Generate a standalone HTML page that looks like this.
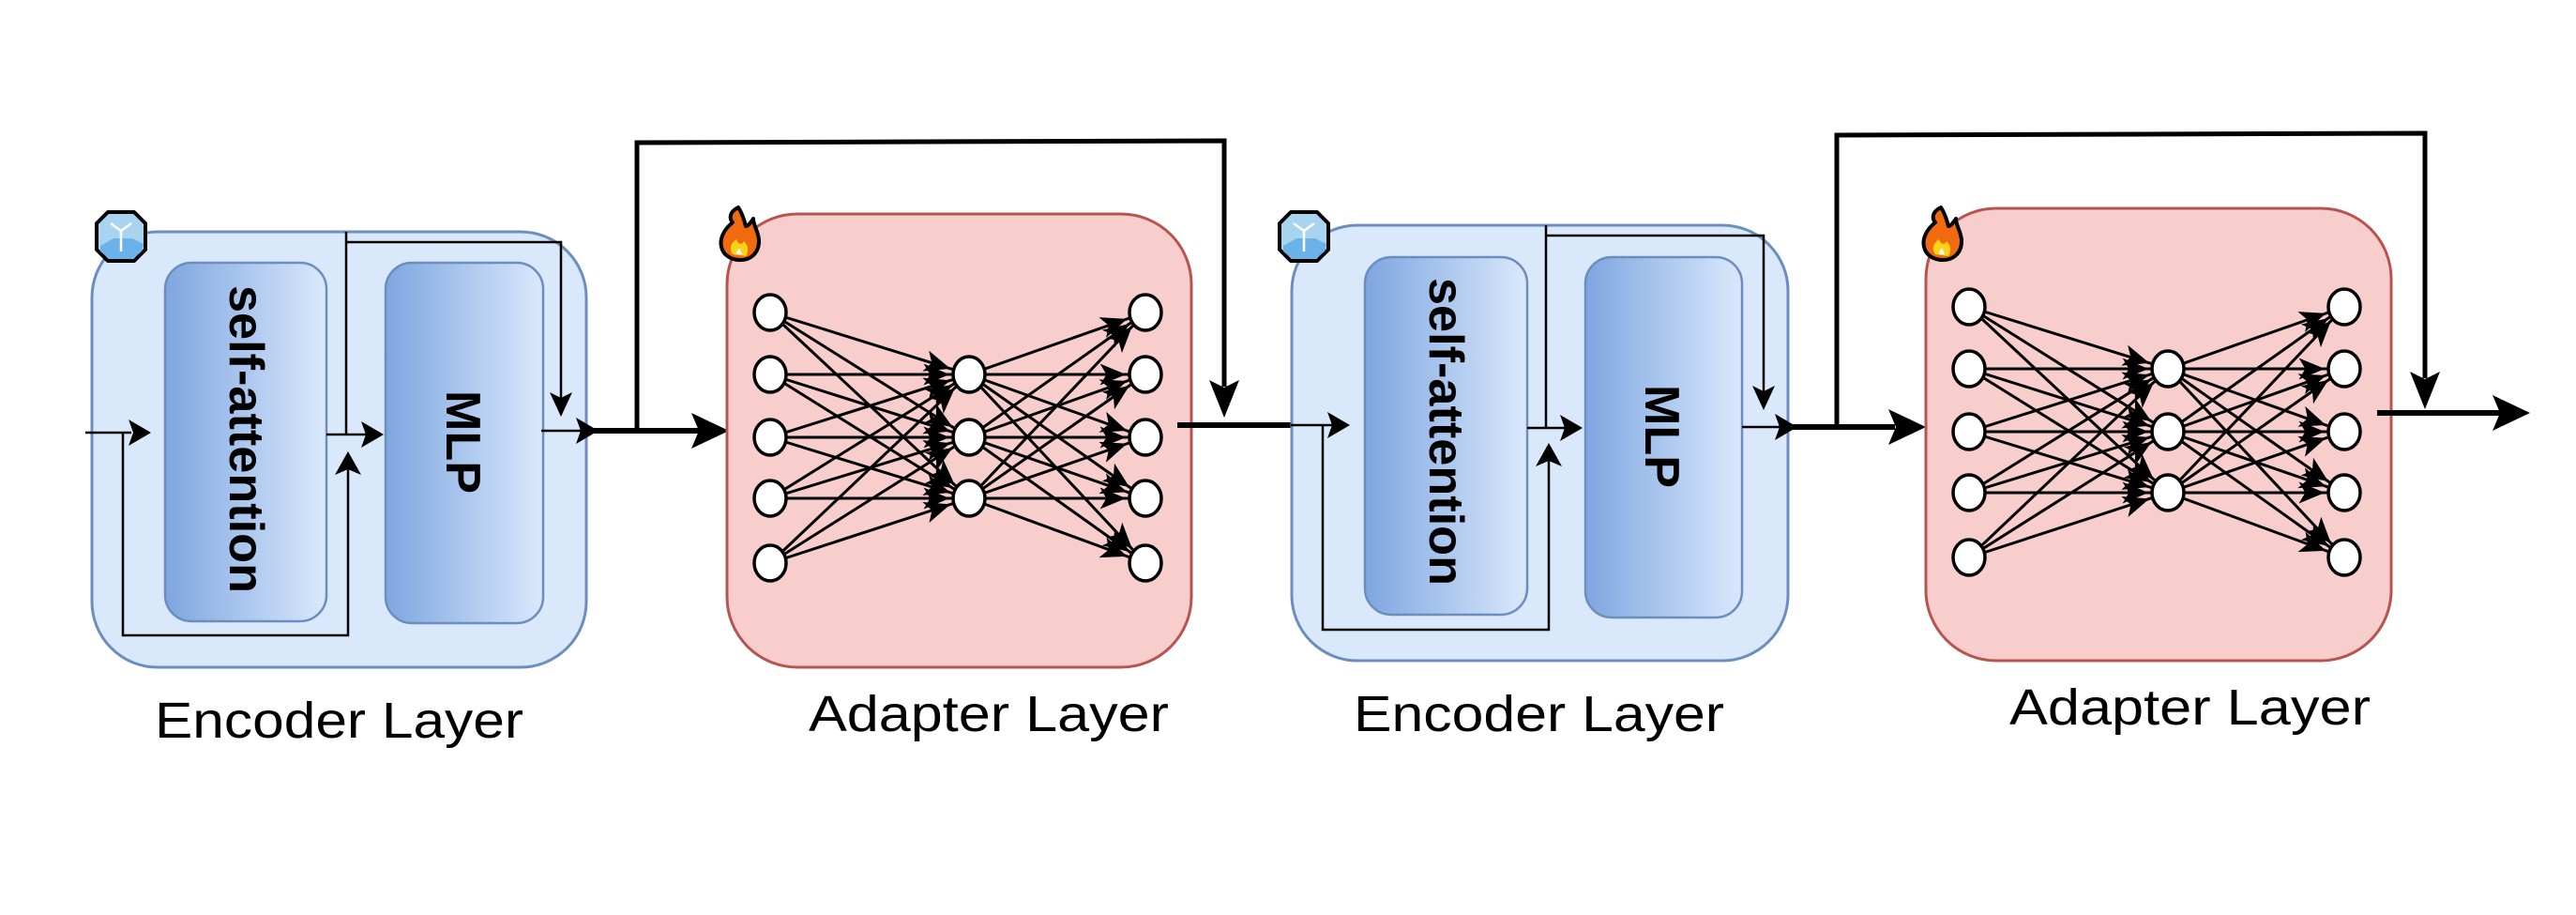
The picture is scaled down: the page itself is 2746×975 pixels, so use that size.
<!DOCTYPE html>
<html><head><meta charset="utf-8"><style>
html,body{margin:0;padding:0;background:#fff;}
svg{display:block;}
text{font-family:"Liberation Sans",Arial,sans-serif;}
</style></head><body>
<svg width="2746" height="975" viewBox="0 0 2746 975" xmlns="http://www.w3.org/2000/svg">
<defs>
<linearGradient id="g" x1="0" x2="1" y1="0" y2="0">
<stop offset="0" stop-color="#7ea6e0"/><stop offset="1" stop-color="#dae8fc"/>
</linearGradient>
<marker id="na" markerUnits="userSpaceOnUse" markerWidth="30" markerHeight="24" refX="42" refY="10" orient="auto" viewBox="0 0 26 20" overflow="visible">
<path d="M0,0 L24,10 L0,20 L6,10 Z" fill="#000"/>
</marker>
<g id="net">
<g stroke="#000" stroke-width="3" marker-end="url(#na)">
<line x1="821" y1="333" x2="1033" y2="399"/><line x1="821" y1="333" x2="1033" y2="466"/><line x1="821" y1="333" x2="1033" y2="531"/>
<line x1="821" y1="399" x2="1033" y2="399"/><line x1="821" y1="399" x2="1033" y2="466"/><line x1="821" y1="399" x2="1033" y2="531"/>
<line x1="821" y1="466" x2="1033" y2="399"/><line x1="821" y1="466" x2="1033" y2="466"/><line x1="821" y1="466" x2="1033" y2="531"/>
<line x1="821" y1="531" x2="1033" y2="399"/><line x1="821" y1="531" x2="1033" y2="466"/><line x1="821" y1="531" x2="1033" y2="531"/>
<line x1="821" y1="600" x2="1033" y2="399"/><line x1="821" y1="600" x2="1033" y2="466"/><line x1="821" y1="600" x2="1033" y2="531"/>
<line x1="1033" y1="399" x2="1221" y2="333"/><line x1="1033" y1="399" x2="1221" y2="399"/><line x1="1033" y1="399" x2="1221" y2="466"/><line x1="1033" y1="399" x2="1221" y2="531"/><line x1="1033" y1="399" x2="1221" y2="600"/>
<line x1="1033" y1="466" x2="1221" y2="333"/><line x1="1033" y1="466" x2="1221" y2="399"/><line x1="1033" y1="466" x2="1221" y2="466"/><line x1="1033" y1="466" x2="1221" y2="531"/><line x1="1033" y1="466" x2="1221" y2="600"/>
<line x1="1033" y1="531" x2="1221" y2="333"/><line x1="1033" y1="531" x2="1221" y2="399"/><line x1="1033" y1="531" x2="1221" y2="466"/><line x1="1033" y1="531" x2="1221" y2="531"/><line x1="1033" y1="531" x2="1221" y2="600"/>
</g>
<g fill="#fff" stroke="#000" stroke-width="3.5">
<ellipse cx="821" cy="333" rx="17" ry="19"/><ellipse cx="821" cy="399" rx="17" ry="19"/><ellipse cx="821" cy="466" rx="17" ry="19"/><ellipse cx="821" cy="531" rx="17" ry="19"/><ellipse cx="821" cy="600" rx="17" ry="19"/>
<ellipse cx="1033" cy="399" rx="17" ry="19"/><ellipse cx="1033" cy="466" rx="17" ry="19"/><ellipse cx="1033" cy="531" rx="17" ry="19"/>
<ellipse cx="1221" cy="333" rx="17" ry="19"/><ellipse cx="1221" cy="399" rx="17" ry="19"/><ellipse cx="1221" cy="466" rx="17" ry="19"/><ellipse cx="1221" cy="531" rx="17" ry="19"/><ellipse cx="1221" cy="600" rx="17" ry="19"/>
</g>
</g>
<g id="ice">
<path d="M14,4 L42,4 L54,16 L54,44 L42,56 L14,56 L2,44 L2,16 Z" fill="#a8d4f0" stroke="#000" stroke-width="4" stroke-linejoin="round"/>
<path d="M6,40 L20,32 L40,32 L52,38 L50,46 L40,54 L16,54 L6,46 Z" fill="#6ab2e8"/>
<path d="M17,16 L28,24 L39,16 M28,24 L28,46" stroke="#fff" stroke-width="2.5" fill="none"/>
</g>
<g id="fire">
<path d="M22,2 C10,8 14,16 16,18 C6,26 2,36 4,44 C6,54 16,58 24,58 C36,58 44,50 44,38 C44,28 38,22 38,14 C34,20 32,22 30,22 C28,14 26,8 22,2 Z" fill="#f26a0f" stroke="#000" stroke-width="4" stroke-linejoin="round"/>
<path d="M16,52 C12,46 14,40 20,36 C22,42 26,42 28,38 C32,42 34,48 30,54 Z" fill="#ffd21a"/>
<path d="M20,52 C20,48 22,46 24,46 C24,50 26,50 26,52 Z" fill="#fff"/>
</g>
</defs>

<!-- Encoder 1 -->
<rect x="98" y="247" width="527" height="464" rx="70" fill="#dae8fc" stroke="#6c8ebf" stroke-width="3"/>
<rect x="176" y="280" width="172" height="382" rx="28" fill="url(#g)" stroke="#6c8ebf" stroke-width="2.5"/>
<rect x="411" y="280" width="168" height="384" rx="28" fill="url(#g)" stroke="#6c8ebf" stroke-width="2.5"/>
<text transform="translate(245,468) rotate(90)" text-anchor="middle" font-size="52" font-weight="bold" textLength="328" lengthAdjust="spacingAndGlyphs">self-attention</text>
<text transform="translate(476,471) rotate(90)" text-anchor="middle" font-size="52" font-weight="bold" textLength="110" lengthAdjust="spacingAndGlyphs">MLP</text>
<use href="#ice" x="101" y="222"/>

<g stroke="#000" stroke-width="2.5" fill="none">
<line x1="91" y1="461" x2="140" y2="461"/>
<polyline points="131,461 131,677 371,677 371,500"/>
<line x1="348" y1="463" x2="390" y2="463"/>
<polyline points="369,247 369,463"/>
<polyline points="369,258 598,258 598,425"/>
<line x1="577" y1="459" x2="620" y2="459"/>
</g>
<polygon points="161,461 137,447 142,461 137,475" fill="#000"/>
<polygon points="371,481 357,506 371,500 385,506" fill="#000"/>
<polygon points="409,463 385,449 390,463 385,477" fill="#000"/>
<polygon points="598,444 586,418 598,424 610,418" fill="#000"/>
<polygon points="638,459 614,445 619,459 614,473" fill="#000"/>
<line x1="630" y1="459" x2="745" y2="459" stroke="#000" stroke-width="6"/>
<polygon points="777,459 737,440 745,459 737,478" fill="#000"/>
<polyline points="679,459 679,152 1305,150 1305,412" stroke="#000" stroke-width="5" fill="none"/>
<polygon points="1305,445 1289,405 1305,413 1321,405" fill="#000"/>

<!-- Adapter 1 -->
<rect x="775" y="228" width="495" height="483" rx="75" fill="#f8cecc" stroke="#b85450" stroke-width="3"/>
<use href="#net"/>
<use href="#fire" x="765" y="219"/>
<line x1="1255" y1="453" x2="1378" y2="453" stroke="#000" stroke-width="6"/>

<!-- Encoder 2 -->
<rect x="1377" y="240" width="529" height="464" rx="70" fill="#dae8fc" stroke="#6c8ebf" stroke-width="3"/>
<rect x="1455" y="274" width="173" height="381" rx="28" fill="url(#g)" stroke="#6c8ebf" stroke-width="2.5"/>
<rect x="1690" y="274" width="167" height="384" rx="28" fill="url(#g)" stroke="#6c8ebf" stroke-width="2.5"/>
<text transform="translate(1524,460) rotate(90)" text-anchor="middle" font-size="52" font-weight="bold" textLength="328" lengthAdjust="spacingAndGlyphs">self-attention</text>
<text transform="translate(1754,465) rotate(90)" text-anchor="middle" font-size="52" font-weight="bold" textLength="110" lengthAdjust="spacingAndGlyphs">MLP</text>
<use href="#ice" x="1362" y="222"/>
<g stroke="#000" stroke-width="2.5" fill="none">
<line x1="1376" y1="453" x2="1420" y2="453"/>
<polyline points="1410,453 1410,671 1651,671 1651,490"/>
<line x1="1628" y1="456" x2="1668" y2="456"/>
<polyline points="1648,240 1648,456"/>
<polyline points="1648,251 1880,251 1880,418"/>
<line x1="1857" y1="455" x2="1898" y2="455"/>
</g>
<polygon points="1439,453 1415,439 1420,453 1415,467" fill="#000"/>
<polygon points="1651,472 1637,497 1651,491 1665,497" fill="#000"/>
<polygon points="1687,456 1663,442 1668,456 1663,470" fill="#000"/>
<polygon points="1880,437 1868,411 1880,417 1892,411" fill="#000"/>
<polygon points="1916,455 1892,441 1897,455 1892,469" fill="#000"/>
<line x1="1906" y1="455" x2="2020" y2="455" stroke="#000" stroke-width="6"/>
<polygon points="2053,455 2013,436 2021,455 2013,474" fill="#000"/>
<polyline points="1958,455 1958,144 2585,142 2585,403" stroke="#000" stroke-width="5" fill="none"/>
<polygon points="2585,436 2569,396 2585,404 2601,396" fill="#000"/>

<!-- Adapter 2 -->
<rect x="2053" y="222" width="496" height="482" rx="75" fill="#f8cecc" stroke="#b85450" stroke-width="3"/>
<use href="#net" transform="translate(1278,-6)"/>
<use href="#fire" x="2047" y="219"/>
<line x1="2534" y1="440" x2="2665" y2="440" stroke="#000" stroke-width="6"/>
<polygon points="2697,440 2657,421 2665,440 2657,459" fill="#000"/>

<g font-size="54" fill="#000">
<text x="165" y="786" textLength="393" lengthAdjust="spacingAndGlyphs">Encoder Layer</text>
<text x="862" y="779" textLength="384" lengthAdjust="spacingAndGlyphs">Adapter Layer</text>
<text x="1443" y="779" textLength="395" lengthAdjust="spacingAndGlyphs">Encoder Layer</text>
<text x="2142" y="772" textLength="385" lengthAdjust="spacingAndGlyphs">Adapter Layer</text>
</g>
</svg>
</body></html>
